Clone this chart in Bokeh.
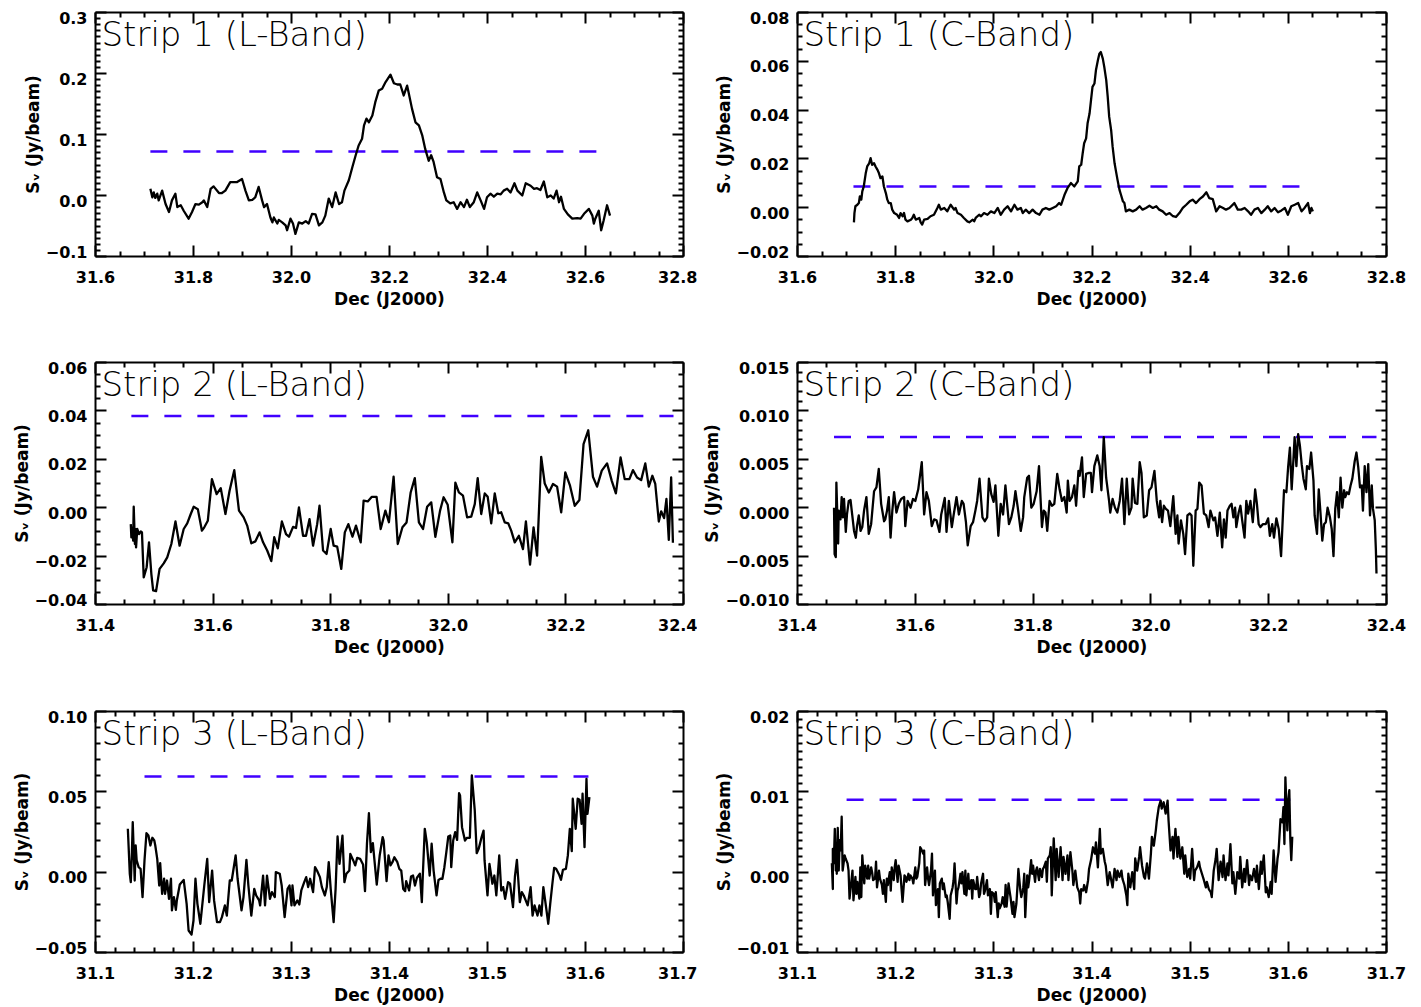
import numpy as np
from bokeh.plotting import figure
from bokeh.layouts import gridplot
from bokeh.models import LinearAxis, FixedTicker, CustomJSTickFormatter, Range1d, Label
from bokeh.embed import file_html
from bokeh.resources import INLINE

# ---------------- data (Dec in deg, S_nu in Jy/beam) ----------------
strip1_L = [(31.712,0.011),(31.716,-0.003),(31.719,0.005),(31.722,-0.004),(31.726,0.003),(31.729,-0.008),
 (31.736,0.008),(31.743,-0.014),(31.750,-0.027),(31.756,-0.008),(31.763,0.003),(31.767,-0.019),(31.774,-0.016),
 (31.780,-0.025),(31.790,-0.038),(31.797,-0.027),(31.804,-0.014),(31.811,-0.015),(31.818,-0.011),(31.821,-0.008),
 (31.828,-0.019),(31.835,0.011),(31.841,0.015),(31.852,0.004),(31.858,0.004),(31.865,0.008),(31.875,0.022),
 (31.889,0.022),(31.899,0.027),(31.906,0.008),(31.913,-0.008),(31.920,-0.007),(31.926,-0.003),(31.933,0.014),
 (31.940,-0.008),(31.944,-0.019),(31.950,-0.014),(31.957,-0.036),(31.961,-0.044),(31.964,-0.036),(31.971,-0.046),
 (31.974,-0.040),(31.981,-0.044),(31.988,-0.049),(31.991,-0.057),(31.998,-0.038),(32.003,-0.046),(32.008,-0.063),
 (32.015,-0.044),(32.022,-0.046),(32.029,-0.042),(32.035,-0.046),(32.042,-0.030),(32.049,-0.031),(32.056,-0.049),
 (32.063,-0.044),(32.069,-0.033),(32.076,-0.005),(32.083,-0.019),(32.090,0.005),(32.097,-0.014),(32.103,-0.011),
 (32.108,0.008),(32.117,0.025),(32.124,0.046),(32.131,0.066),(32.137,0.082),(32.144,0.093),(32.148,0.115),
 (32.153,0.126),(32.158,0.120),(32.165,0.131),(32.171,0.153),(32.178,0.172),(32.185,0.175),(32.192,0.186),
 (32.202,0.198),(32.209,0.184),(32.216,0.182),(32.222,0.182),(32.229,0.164),(32.236,0.180),(32.239,0.169),
 (32.246,0.142),(32.253,0.120),(32.260,0.115),(32.267,0.098),(32.273,0.076),(32.280,0.057),(32.285,0.066),
 (32.290,0.055),(32.297,0.030),(32.304,0.027),(32.311,0.005),(32.316,-0.008),(32.324,-0.013),(32.331,-0.011),
 (32.338,-0.022),(32.345,-0.011),(32.352,-0.019),(32.358,-0.007),(32.364,-0.019),(32.372,-0.011),(32.379,0.005),
 (32.386,-0.008),(32.393,-0.022),(32.399,-0.003),(32.406,0.003),(32.413,-0.002),(32.420,0.003),(32.427,0.002),
 (32.433,0.008),(32.440,0.011),(32.447,0.005),(32.455,0.020),(32.461,0.008),(32.471,0.000),(32.478,0.020),
 (32.488,0.016),(32.495,0.011),(32.501,0.012),(32.508,0.009),(32.515,0.023),(32.522,-0.003),(32.529,0.000),
 (32.535,-0.005),(32.541,0.008),(32.546,-0.011),(32.550,-0.002),(32.556,-0.022),(32.564,-0.031),(32.573,-0.038),
 (32.583,-0.037),(32.590,-0.038),(32.597,-0.030),(32.607,-0.022),(32.614,-0.033),(32.617,-0.046),(32.620,-0.038),
 (32.627,-0.025),(32.632,-0.057),(32.637,-0.041),(32.644,-0.016),(32.650,-0.033)]

strip1_C = [(31.715,-0.0060),(31.716,-0.0022),(31.718,0.0006),(31.722,0.0012),(31.725,0.0019),(31.727,0.0046),
 (31.730,0.0033),(31.732,0.0067),(31.735,0.0087),(31.739,0.0141),(31.742,0.0169),(31.746,0.0182),(31.749,0.0203),
 (31.752,0.0176),(31.756,0.0182),(31.759,0.0169),(31.763,0.0155),(31.766,0.0141),(31.769,0.0121),(31.773,0.0128),
 (31.776,0.0087),(31.780,0.0060),(31.783,0.0033),(31.786,0.0019),(31.790,0.0019),(31.793,-0.0008),(31.797,-0.0022),
 (31.803,-0.0029),(31.807,-0.0042),(31.810,-0.0022),(31.814,-0.0035),(31.817,-0.0022),(31.820,-0.0049),
 (31.824,-0.0056),(31.831,-0.0049),(31.834,-0.0042),(31.837,-0.0029),(31.841,-0.0049),(31.848,-0.0042),
 (31.851,-0.0060),(31.854,-0.0069),(31.858,-0.0049),(31.865,-0.0046),(31.871,-0.0035),(31.878,-0.0029),
 (31.885,-0.0001),(31.888,0.0012),(31.892,-0.0008),(31.899,-0.0001),(31.905,-0.0015),(31.912,0.0012),
 (31.919,-0.0008),(31.922,-0.0001),(31.926,-0.0022),(31.933,-0.0029),(31.939,-0.0042),(31.946,-0.0056),
 (31.950,-0.0060),(31.957,-0.0049),(31.960,-0.0056),(31.963,-0.0042),(31.970,-0.0029),(31.974,-0.0035),
 (31.980,-0.0022),(31.987,-0.0029),(31.994,-0.0015),(32.001,-0.0022),(32.008,-0.0001),(32.014,-0.0029),
 (32.021,-0.0008),(32.028,0.0006),(32.035,-0.0015),(32.042,0.0012),(32.048,-0.0008),(32.055,-0.0001),
 (32.059,-0.0022),(32.065,-0.0008),(32.072,-0.0022),(32.079,-0.0008),(32.086,-0.0022),(32.093,-0.0029),
 (32.099,-0.0008),(32.106,-0.0001),(32.113,-0.0008),(32.120,-0.0001),(32.127,0.0006),(32.133,0.0019),
 (32.137,0.0012),(32.144,0.0053),(32.150,0.0080),(32.157,0.0101),(32.164,0.0087),(32.171,0.0108),(32.174,0.0169),
 (32.178,0.0176),(32.181,0.0223),(32.184,0.0264),(32.188,0.0284),(32.191,0.0346),(32.195,0.0386),(32.198,0.0441),
 (32.201,0.0495),(32.205,0.0509),(32.208,0.0563),(32.212,0.0604),(32.215,0.0631),(32.218,0.0638),(32.222,0.0611),
 (32.225,0.0577),(32.229,0.0523),(32.232,0.0455),(32.235,0.0373),(32.239,0.0318),(32.242,0.0250),(32.246,0.0182),
 (32.249,0.0148),(32.252,0.0114),(32.256,0.0073),(32.259,0.0053),(32.263,0.0026),(32.266,0.0019),(32.269,-0.0015),
 (32.276,-0.0008),(32.283,-0.0015),(32.290,-0.0008),(32.297,0.0006),(32.303,-0.0008),(32.310,-0.0001),
 (32.317,0.0008),(32.324,-0.0001),(32.331,0.0006),(32.337,-0.0008),(32.344,-0.0015),(32.351,-0.0029),
 (32.358,-0.0022),(32.365,-0.0035),(32.371,-0.0038),(32.378,-0.0022),(32.385,-0.0001),(32.392,0.0012),
 (32.399,0.0026),(32.405,0.0033),(32.412,0.0019),(32.419,0.0035),(32.426,0.0046),(32.433,0.0063),(32.439,0.0039),
 (32.446,0.0035),(32.453,-0.0015),(32.460,0.0006),(32.467,-0.0001),(32.473,-0.0008),(32.480,-0.0001),
 (32.490,0.0019),(32.497,-0.0008),(32.504,-0.0008),(32.511,-0.0001),(32.518,-0.0015),(32.524,-0.0029),
 (32.531,-0.0008),(32.538,-0.0001),(32.545,-0.0022),(32.552,-0.0008),(32.558,0.0006),(32.565,-0.0015),
 (32.572,-0.0001),(32.579,-0.0019),(32.586,-0.0011),(32.593,-0.0001),(32.599,-0.0029),(32.606,0.0006),
 (32.613,0.0012),(32.620,0.0019),(32.627,-0.0015),(32.633,-0.0001),(32.640,0.0019),(32.644,-0.0022),
 (32.647,-0.0001),(32.650,-0.0015)]

strip2_L = [(31.460,-0.0068),(31.461,-0.0123),(31.463,-0.0081),(31.464,-0.0136),(31.465,0.0004),(31.467,-0.0150),
 (31.468,-0.0088),(31.469,-0.0164),(31.471,-0.0088),(31.474,-0.0109),(31.477,-0.0098),(31.479,-0.0102),
 (31.482,-0.0288),(31.487,-0.0246),(31.491,-0.0143),(31.495,-0.0274),(31.498,-0.0342),(31.503,-0.0345),
 (31.509,-0.0253),(31.516,-0.0230),(31.522,-0.0205),(31.529,-0.0150),(31.536,-0.0057),(31.543,-0.0157),
 (31.550,-0.0088),(31.556,-0.0065),(31.562,-0.0026),(31.567,0.0004),(31.574,-0.0006),(31.581,-0.0095),
 (31.585,-0.0081),(31.591,-0.0054),(31.598,0.0118),(31.606,0.0056),(31.613,0.0081),(31.621,-0.0026),
 (31.628,0.0070),(31.636,0.0155),(31.644,-0.0012),(31.652,-0.0040),(31.658,-0.0074),(31.665,-0.0147),
 (31.672,-0.0139),(31.679,-0.0102),(31.685,-0.0143),(31.692,-0.0177),(31.699,-0.0221),(31.704,-0.0122),
 (31.710,-0.0168),(31.717,-0.0057),(31.724,-0.0109),(31.729,-0.0120),(31.736,-0.0079),(31.741,-0.0084),
 (31.746,0.0001),(31.753,-0.0116),(31.758,-0.0116),(31.764,-0.0047),(31.770,-0.0157),(31.777,-0.0068),
 (31.781,0.0008),(31.787,-0.0177),(31.793,-0.0191),(31.800,-0.0088),(31.805,-0.0157),(31.811,-0.0161),
 (31.818,-0.0253),(31.824,-0.0102),(31.830,-0.0068),(31.837,-0.0120),(31.843,-0.0074),(31.851,-0.0143),
 (31.856,0.0029),(31.863,0.0026),(31.870,0.0045),(31.878,0.0045),(31.885,-0.0088),(31.893,-0.0012),
 (31.899,-0.0060),(31.907,0.0128),(31.914,-0.0150),(31.922,-0.0081),(31.929,-0.0061),(31.936,0.0063),
 (31.943,0.0122),(31.950,-0.0061),(31.957,-0.0088),(31.964,0.0004),(31.971,0.0022),(31.978,-0.0120),
 (31.986,-0.0012),(31.992,0.0043),(31.999,0.0012),(32.007,-0.0143),(32.012,0.0104),(32.018,0.0063),
 (32.025,0.0050),(32.032,-0.0040),(32.039,-0.0037),(32.045,0.0015),(32.050,0.0122),(32.056,-0.0026),
 (32.062,0.0059),(32.067,0.0045),(32.073,-0.0065),(32.079,0.0059),(32.085,-0.0023),(32.090,-0.0019),
 (32.096,-0.0061),(32.102,-0.0065),(32.107,-0.0095),(32.113,-0.0143),(32.120,-0.0116),(32.127,-0.0171),
 (32.132,-0.0057),(32.139,-0.0235),(32.145,-0.0081),(32.151,-0.0198),(32.158,0.0210),(32.164,0.0100),
 (32.171,0.0063),(32.178,0.0098),(32.185,0.0087),(32.192,-0.0019),(32.199,0.0146),(32.207,0.0091),
 (32.215,0.0008),(32.223,0.0032),(32.230,0.0263),(32.238,0.0320),(32.246,0.0128),(32.253,0.0087),
 (32.261,0.0153),(32.270,0.0183),(32.278,0.0111),(32.285,0.0059),(32.293,0.0208),(32.300,0.0118),
 (32.308,0.0118),(32.314,0.0155),(32.321,0.0125),(32.328,0.0114),(32.335,0.0183),(32.341,0.0087),
 (32.347,0.0132),(32.352,0.0098),(32.358,-0.0057),(32.362,-0.0015),(32.367,-0.0043),(32.371,0.0036),
 (32.375,-0.0133),(32.379,0.0125),(32.382,-0.0145)]

strip2_C = [(31.462,0.0000),(31.463,-0.0048),(31.465,-0.0051),(31.466,0.0026),(31.469,-0.0037),(31.470,-0.0003),
 (31.473,-0.0012),(31.475,0.0011),(31.477,-0.0010),(31.479,0.0009),(31.482,-0.0025),(31.484,-0.0007),
 (31.487,0.0007),(31.490,0.0008),(31.493,-0.0008),(31.496,-0.0024),(31.499,-0.0031),(31.501,-0.0019),
 (31.504,-0.0008),(31.507,-0.0024),(31.510,-0.0020),(31.513,-0.0003),(31.517,0.0011),(31.521,-0.0027),
 (31.525,-0.0017),(31.530,0.0017),(31.534,0.0021),(31.538,0.0040),(31.542,0.0004),(31.547,-0.0014),
 (31.549,-0.0012),(31.552,-0.0003),(31.555,0.0011),(31.558,-0.0031),(31.561,-0.0003),(31.564,0.0016),
 (31.568,-0.0005),(31.572,0.0004),(31.576,0.0009),(31.581,0.0011),(31.583,-0.0019),(31.587,0.0007),
 (31.592,0.0000),(31.596,0.0009),(31.600,0.0007),(31.605,0.0019),(31.611,0.0047),(31.615,-0.0007),
 (31.619,0.0016),(31.623,0.0007),(31.628,-0.0019),(31.632,-0.0012),(31.636,-0.0013),(31.641,-0.0025),
 (31.644,-0.0007),(31.650,0.0010),(31.653,-0.0025),(31.657,0.0007),(31.662,-0.0020),(31.665,-0.0008),
 (31.670,0.0011),(31.674,-0.0007),(31.679,0.0007),(31.682,0.0004),(31.686,-0.0015),(31.689,-0.0039),
 (31.694,-0.0019),(31.698,-0.0015),(31.702,-0.0003),(31.705,0.0007),(31.709,0.0030),(31.714,-0.0010),
 (31.718,-0.0014),(31.722,-0.0010),(31.725,0.0030),(31.729,0.0014),(31.733,0.0006),(31.736,0.0023),
 (31.741,-0.0029),(31.745,0.0004),(31.749,-0.0007),(31.753,0.0023),(31.759,-0.0017),(31.763,-0.0010),
 (31.767,0.0002),(31.770,0.0017),(31.774,0.0000),(31.779,-0.0024),(31.783,-0.0010),(31.785,0.0011),
 (31.790,0.0031),(31.793,0.0033),(31.797,0.0000),(31.801,0.0004),(31.806,0.0017),(31.810,0.0043),
 (31.815,-0.0020),(31.818,-0.0003),(31.821,-0.0005),(31.824,-0.0024),(31.828,0.0007),(31.832,0.0002),
 (31.836,0.0004),(31.841,0.0035),(31.845,0.0019),(31.849,0.0007),(31.853,0.0011),(31.857,-0.0005),
 (31.859,0.0028),(31.862,0.0007),(31.866,0.0011),(31.870,0.0023),(31.873,0.0002),(31.877,0.0038),
 (31.879,0.0033),(31.883,0.0052),(31.886,0.0011),(31.890,0.0035),(31.895,0.0036),(31.898,0.0036),
 (31.900,0.0016),(31.904,0.0043),(31.909,0.0054),(31.913,0.0043),(31.916,0.0018),(31.920,0.0073),
 (31.924,0.0031),(31.929,0.0007),(31.931,-0.0005),(31.935,0.0009),(31.939,0.0000),(31.943,-0.0005),
 (31.947,0.0007),(31.951,0.0030),(31.955,-0.0017),(31.959,0.0030),(31.963,-0.0007),(31.967,0.0000),
 (31.969,0.0030),(31.973,0.0005),(31.977,0.0004),(31.981,0.0047),(31.984,0.0036),(31.988,-0.0010),
 (31.993,-0.0008),(31.997,0.0018),(32.001,0.0021),(32.006,0.0038),(32.010,0.0007),(32.014,-0.0010),
 (32.016,0.0007),(32.019,-0.0015),(32.022,0.0002),(32.025,-0.0001),(32.029,-0.0003),(32.033,-0.0019),
 (32.038,0.0012),(32.042,-0.0027),(32.045,-0.0008),(32.047,-0.0037),(32.051,-0.0013),(32.055,-0.0027),
 (32.058,-0.0048),(32.062,-0.0008),(32.066,-0.0006),(32.069,-0.0008),(32.072,-0.0060),(32.076,-0.0003),
 (32.079,-0.0001),(32.082,0.0026),(32.086,0.0023),(32.090,-0.0006),(32.094,-0.0008),(32.098,-0.0020),
 (32.101,-0.0003),(32.106,-0.0013),(32.109,-0.0010),(32.113,-0.0029),(32.117,-0.0005),(32.121,-0.0041),
 (32.124,-0.0012),(32.127,-0.0031),(32.130,-0.0003),(32.134,0.0002),(32.137,0.0004),(32.140,-0.0010),
 (32.143,0.0000),(32.145,-0.0020),(32.149,-0.0005),(32.152,0.0002),(32.155,-0.0013),(32.159,-0.0031),
 (32.162,0.0007),(32.165,-0.0006),(32.169,0.0007),(32.173,-0.0015),(32.177,0.0019),(32.180,0.0004),
 (32.183,-0.0017),(32.186,-0.0020),(32.190,-0.0017),(32.195,-0.0017),(32.199,-0.0011),(32.202,-0.0029),
 (32.206,-0.0017),(32.209,-0.0031),(32.213,-0.0011),(32.217,-0.0022),(32.221,-0.0050),(32.226,0.0018),
 (32.230,0.0016),(32.233,0.0042),(32.236,0.0062),(32.239,0.0019),(32.242,0.0050),(32.244,0.0073),
 (32.247,0.0043),(32.250,0.0076),(32.253,0.0064),(32.256,0.0045),(32.259,0.0030),(32.263,0.0019),
 (32.265,0.0043),(32.269,0.0040),(32.272,0.0057),(32.276,0.0028),(32.278,-0.0008),(32.282,-0.0027),
 (32.285,0.0019),(32.288,-0.0006),(32.291,-0.0034),(32.294,-0.0017),(32.297,-0.0015),(32.300,0.0000),
 (32.304,-0.0010),(32.307,-0.0022),(32.310,-0.0050),(32.313,-0.0001),(32.316,0.0016),(32.319,-0.0010),
 (32.322,0.0031),(32.325,0.0000),(32.328,0.0018),(32.330,0.0011),(32.333,0.0016),(32.336,0.0014),
 (32.339,0.0023),(32.342,0.0030),(32.346,0.0048),(32.349,0.0057),(32.352,0.0042),(32.355,0.0021),
 (32.358,0.0023),(32.360,-0.0003),(32.363,0.0043),(32.366,0.0016),(32.369,0.0045),(32.372,-0.0008),
 (32.375,0.0023),(32.377,-0.0001),(32.380,-0.0013),(32.382,-0.0044),(32.383,-0.0068)]

strip3_L = [(31.133,0.0270),(31.135,-0.0010),(31.136,-0.0062),(31.137,0.0093),(31.138,0.0311),(31.140,-0.0052),
 (31.141,0.0166),(31.142,0.0073),(31.144,0.0031),(31.146,0.0021),(31.148,-0.0155),(31.150,0.0073),(31.152,0.0243),
 (31.154,0.0228),(31.156,0.0166),(31.158,0.0214),(31.160,0.0197),(31.161,0.0166),(31.163,0.0083),(31.165,-0.0083),
 (31.166,0.0056),(31.168,-0.0135),(31.170,-0.0041),(31.171,-0.0135),(31.173,-0.0052),(31.175,-0.0166),
 (31.177,-0.0041),(31.178,-0.0238),(31.180,-0.0155),(31.182,-0.0234),(31.183,-0.0176),(31.186,-0.0077),
 (31.190,-0.0048),(31.193,-0.0197),(31.195,-0.0363),(31.198,-0.0388),(31.200,-0.0301),(31.202,-0.0041),
 (31.204,-0.0197),(31.207,-0.0321),(31.211,-0.0083),(31.214,0.0083),(31.216,-0.0187),(31.219,0.0010),
 (31.221,-0.0176),(31.224,-0.0311),(31.227,-0.0311),(31.229,-0.0280),(31.232,-0.0207),(31.234,-0.0270),
 (31.237,-0.0052),(31.239,-0.0052),(31.243,0.0104),(31.245,-0.0041),(31.249,-0.0238),(31.251,-0.0155),
 (31.254,0.0077),(31.256,-0.0083),(31.259,-0.0270),(31.262,-0.0104),(31.264,-0.0145),(31.267,-0.0176),
 (31.268,-0.0207),(31.271,-0.0021),(31.273,-0.0207),(31.275,-0.0021),(31.278,-0.0166),(31.280,-0.0124),
 (31.283,-0.0155),(31.284,0.0000),(31.288,-0.0010),(31.290,-0.0083),(31.293,-0.0280),(31.296,-0.0104),
 (31.298,-0.0083),(31.300,-0.0207),(31.301,-0.0083),(31.303,-0.0207),(31.306,-0.0176),(31.308,-0.0201),
 (31.310,-0.0114),(31.313,-0.0062),(31.315,-0.0031),(31.317,-0.0093),(31.319,-0.0041),(31.322,-0.0124),
 (31.324,0.0031),(31.326,0.0010),(31.329,-0.0031),(31.331,-0.0093),(31.334,-0.0145),(31.336,-0.0093),
 (31.338,0.0062),(31.340,-0.0104),(31.343,-0.0311),(31.345,-0.0104),(31.347,0.0222),(31.349,0.0052),
 (31.352,0.0228),(31.354,-0.0062),(31.356,-0.0010),(31.359,0.0010),(31.360,0.0114),(31.363,0.0073),
 (31.365,0.0042),(31.367,0.0089),(31.370,0.0083),(31.373,0.0048),(31.375,-0.0118),(31.377,0.0177),
 (31.379,0.0367),(31.381,0.0125),(31.383,0.0181),(31.387,-0.0077),(31.390,0.0104),(31.393,0.0218),
 (31.394,0.0197),(31.397,-0.0056),(31.399,0.0104),(31.401,0.0042),(31.403,0.0062),(31.405,0.0093),
 (31.408,0.0062),(31.410,0.0021),(31.412,0.0010),(31.414,-0.0104),(31.416,-0.0118),(31.417,-0.0056),
 (31.420,-0.0114),(31.422,-0.0027),(31.424,-0.0021),(31.426,-0.0083),(31.428,-0.0035),(31.431,-0.0010),
 (31.433,-0.0187),(31.434,-0.0021),(31.436,0.0270),(31.438,0.0187),(31.441,-0.0021),(31.443,0.0177),
 (31.445,0.0010),(31.448,-0.0145),(31.450,-0.0048),(31.452,-0.0041),(31.454,-0.0041),(31.456,0.0031),
 (31.458,0.0125),(31.460,0.0222),(31.462,0.0228),(31.463,0.0031),(31.465,0.0197),(31.467,0.0249),
 (31.469,0.0201),(31.471,0.0492),(31.472,0.0477),(31.474,0.0280),(31.477,0.0197),(31.479,0.0214),
 (31.482,0.0214),(31.484,0.0602),(31.487,0.0384),(31.489,0.0118),(31.491,0.0145),(31.494,0.0218),
 (31.496,0.0259),(31.497,0.0073),(31.500,-0.0145),(31.502,0.0052),(31.505,-0.0072),(31.507,-0.0021),
 (31.509,-0.0145),(31.512,0.0104),(31.514,-0.0114),(31.516,-0.0093),(31.518,-0.0166),(31.521,-0.0062),
 (31.523,-0.0072),(31.526,-0.0218),(31.528,-0.0027),(31.530,0.0077),(31.533,-0.0187),(31.535,-0.0124),
 (31.537,-0.0145),(31.539,-0.0176),(31.541,-0.0207),(31.544,-0.0093),(31.546,-0.0270),(31.548,-0.0207),
 (31.551,-0.0270),(31.553,-0.0207),(31.555,-0.0270),(31.557,-0.0093),(31.560,-0.0228),(31.562,-0.0321),
 (31.564,-0.0197),(31.566,-0.0083),(31.568,0.0027),(31.570,0.0021),(31.573,-0.0014),(31.575,-0.0048),
 (31.577,0.0015),(31.580,0.0021),(31.582,0.0104),(31.584,0.0270),(31.586,0.0131),(31.587,0.0457),
 (31.590,0.0270),(31.592,0.0457),(31.594,0.0450),(31.596,0.0301),(31.597,0.0488),(31.599,0.0156),
 (31.601,0.0581),(31.602,0.0363),(31.604,0.0467)]

strip3_C = [(31.135,0.0011),(31.136,-0.0021),(31.136,0.0029),(31.137,0.0011),(31.138,0.0054),(31.139,0.0002),
 (31.140,0.0031),(31.140,-0.0002),(31.141,0.0055),(31.142,0.0002),(31.143,0.0040),(31.144,0.0027),(31.145,0.0069),
 (31.146,0.0002),(31.148,0.0021),(31.149,0.0017),(31.151,0.0011),(31.152,0.0002),(31.153,-0.0033),(31.155,-0.0010),
 (31.156,0.0002),(31.157,-0.0035),(31.159,-0.0006),(31.160,-0.0027),(31.161,-0.0012),(31.163,-0.0033),
 (31.164,0.0006),(31.165,-0.0031),(31.166,0.0021),(31.168,-0.0014),(31.169,0.0008),(31.171,-0.0008),
 (31.172,0.0008),(31.173,-0.0008),(31.175,0.0006),(31.176,0.0000),(31.177,-0.0010),(31.179,-0.0008),
 (31.180,0.0013),(31.181,-0.0019),(31.183,0.0002),(31.184,-0.0008),(31.186,-0.0016),(31.187,-0.0027),
 (31.188,-0.0010),(31.190,-0.0037),(31.191,-0.0008),(31.192,-0.0016),(31.194,0.0000),(31.195,-0.0023),
 (31.196,0.0006),(31.198,-0.0010),(31.199,0.0006),(31.200,0.0015),(31.202,-0.0012),(31.203,0.0008),
 (31.205,-0.0004),(31.206,-0.0021),(31.207,-0.0037),(31.209,-0.0004),(31.210,-0.0006),(31.211,-0.0012),
 (31.213,-0.0002),(31.214,-0.0010),(31.215,-0.0004),(31.217,-0.0008),(31.218,-0.0014),(31.220,0.0006),
 (31.221,-0.0008),(31.222,-0.0006),(31.224,0.0011),(31.225,0.0031),(31.226,0.0029),(31.228,0.0023),
 (31.229,0.0027),(31.230,-0.0016),(31.232,0.0006),(31.233,-0.0008),(31.234,-0.0016),(31.236,0.0002),
 (31.237,0.0023),(31.238,-0.0029),(31.240,0.0002),(31.241,-0.0041),(31.243,-0.0021),(31.244,-0.0056),
 (31.245,-0.0014),(31.247,-0.0008),(31.248,-0.0021),(31.249,-0.0014),(31.251,-0.0031),(31.252,-0.0029),
 (31.253,-0.0037),(31.255,-0.0058),(31.256,-0.0029),(31.258,-0.0019),(31.259,-0.0010),(31.260,0.0011),
 (31.262,-0.0039),(31.263,-0.0023),(31.264,-0.0019),(31.266,-0.0002),(31.267,-0.0014),(31.268,0.0000),
 (31.270,-0.0027),(31.271,0.0002),(31.272,-0.0029),(31.274,-0.0002),(31.275,-0.0021),(31.277,-0.0010),
 (31.278,-0.0033),(31.279,-0.0010),(31.281,-0.0021),(31.282,-0.0021),(31.283,-0.0006),(31.285,-0.0031),
 (31.286,-0.0027),(31.287,-0.0014),(31.289,-0.0002),(31.290,-0.0027),(31.291,-0.0023),(31.293,-0.0010),
 (31.294,-0.0029),(31.296,-0.0021),(31.297,-0.0052),(31.298,-0.0025),(31.300,-0.0027),(31.301,-0.0037),
 (31.302,-0.0025),(31.304,-0.0056),(31.305,-0.0039),(31.306,-0.0045),(31.308,-0.0039),(31.309,-0.0031),
 (31.311,-0.0043),(31.312,-0.0016),(31.313,-0.0043),(31.315,-0.0014),(31.316,-0.0023),(31.317,-0.0031),
 (31.319,-0.0052),(31.320,-0.0037),(31.321,-0.0056),(31.323,-0.0039),(31.324,-0.0019),(31.325,0.0004),
 (31.327,-0.0023),(31.328,-0.0031),(31.330,-0.0019),(31.331,-0.0002),(31.332,-0.0056),(31.334,-0.0004),
 (31.335,-0.0019),(31.336,-0.0010),(31.338,0.0015),(31.339,-0.0002),(31.340,0.0008),(31.342,-0.0012),
 (31.343,0.0002),(31.344,0.0006),(31.346,-0.0010),(31.347,0.0004),(31.349,-0.0006),(31.350,0.0004),
 (31.351,0.0006),(31.353,0.0013),(31.354,-0.0012),(31.355,0.0017),(31.357,0.0021),(31.358,0.0031),
 (31.359,-0.0029),(31.361,0.0042),(31.363,-0.0010),(31.364,0.0029),(31.366,-0.0006),(31.368,0.0031),
 (31.370,-0.0010),(31.371,0.0019),(31.373,-0.0002),(31.375,0.0021),(31.376,-0.0010),(31.378,0.0025),
 (31.380,0.0002),(31.381,-0.0016),(31.383,0.0002),(31.385,-0.0019),(31.387,-0.0025),(31.388,-0.0039),
 (31.389,-0.0021),(31.391,-0.0023),(31.392,-0.0016),(31.394,-0.0025),(31.396,-0.0010),(31.397,0.0004),
 (31.399,0.0015),(31.401,0.0031),(31.403,0.0023),(31.404,0.0037),(31.406,0.0006),(31.408,0.0054),
 (31.409,0.0023),(31.411,0.0029),(31.413,0.0013),(31.414,0.0008),(31.416,-0.0016),(31.418,0.0000),
 (31.419,-0.0006),(31.421,-0.0019),(31.423,0.0004),(31.425,-0.0010),(31.426,0.0002),(31.428,-0.0006),
 (31.430,0.0002),(31.431,-0.0008),(31.433,-0.0016),(31.435,-0.0029),(31.436,-0.0041),(31.437,-0.0002),
 (31.439,-0.0019),(31.441,0.0000),(31.443,-0.0021),(31.444,0.0017),(31.446,0.0002),(31.448,0.0019),
 (31.449,0.0031),(31.451,0.0008),(31.453,-0.0006),(31.454,-0.0008),(31.456,0.0011),(31.458,-0.0008),
 (31.460,0.0023),(31.461,0.0044),(31.463,0.0033),(31.465,0.0052),(31.466,0.0064),(31.468,0.0081),
 (31.470,0.0089),(31.471,0.0079),(31.473,0.0087),(31.475,0.0073),(31.477,0.0089),(31.478,0.0064),
 (31.480,0.0027),(31.482,0.0044),(31.483,0.0017),(31.485,0.0054),(31.487,0.0019),(31.488,0.0044),
 (31.490,0.0017),(31.492,0.0031),(31.494,-0.0002),(31.495,0.0021),(31.497,-0.0006),(31.499,0.0004),
 (31.500,-0.0008),(31.502,0.0029),(31.504,-0.0010),(31.505,0.0002),(31.507,0.0006),(31.509,0.0013),
 (31.510,0.0006),(31.512,-0.0002),(31.514,-0.0010),(31.516,-0.0019),(31.517,-0.0012),(31.519,-0.0021),
 (31.521,-0.0025),(31.522,-0.0031),(31.524,0.0002),(31.526,0.0017),(31.527,0.0029),(31.529,-0.0010),
 (31.531,0.0013),(31.533,-0.0006),(31.534,0.0021),(31.536,-0.0010),(31.538,0.0011),(31.539,-0.0004),
 (31.541,0.0035),(31.543,-0.0014),(31.544,0.0000),(31.546,-0.0027),(31.548,0.0000),(31.550,-0.0008),
 (31.551,0.0019),(31.553,-0.0019),(31.555,0.0004),(31.556,-0.0012),(31.558,0.0015),(31.560,-0.0016),
 (31.561,-0.0004),(31.563,-0.0010),(31.565,0.0004),(31.567,-0.0012),(31.568,0.0008),(31.570,-0.0021),
 (31.572,0.0013),(31.573,-0.0002),(31.575,0.0021),(31.577,-0.0025),(31.578,-0.0019),(31.580,-0.0031),
 (31.582,-0.0012),(31.583,-0.0027),(31.585,0.0027),(31.587,-0.0012),(31.589,0.0017),(31.590,0.0025),
 (31.592,0.0066),(31.594,0.0062),(31.595,0.0081),(31.596,0.0035),(31.597,0.0118),(31.599,0.0052),
 (31.600,0.0089),(31.601,0.0102),(31.602,0.0042),(31.603,0.0015),(31.604,0.0044)]

# detection thresholds (dashed lines): level and Dec extent
strip1_L_limit, strip1_L_limit_dec = 0.072, [31.712, 32.650]
strip1_C_limit, strip1_C_limit_dec = 0.0087, [31.714, 32.650]
strip2_L_limit, strip2_L_limit_dec = 0.0379, [31.461, 32.383]
strip2_C_limit, strip2_C_limit_dec = 0.0073, [31.462, 32.383]
strip3_L_limit, strip3_L_limit_dec = 0.0596, [31.150, 31.603]
strip3_C_limit, strip3_C_limit_dec = 0.0090, [31.150, 31.602]

# axis tick values
strip1_dec_ticks = [31.6, 31.8, 32.0, 32.2, 32.4, 32.6, 32.8]
strip2_dec_ticks = [31.4, 31.6, 31.8, 32.0, 32.2, 32.4]
strip3_dec_ticks = [31.1, 31.2, 31.3, 31.4, 31.5, 31.6, 31.7]
strip1_L_flux_ticks = [-0.1, 0.0, 0.1, 0.2, 0.3]
strip1_C_flux_ticks = [-0.02, 0.0, 0.02, 0.04, 0.06, 0.08]
strip2_L_flux_ticks = [-0.04, -0.02, 0.0, 0.02, 0.04, 0.06]
strip2_C_flux_ticks = [-0.010, -0.005, 0.0, 0.005, 0.010, 0.015]
strip3_L_flux_ticks = [-0.05, 0.0, 0.05, 0.10]
strip3_C_flux_ticks = [-0.01, 0.0, 0.01, 0.02]

titles = ["Strip 1 (L-Band)", "Strip 1 (C-Band)", "Strip 2 (L-Band)",
          "Strip 2 (C-Band)", "Strip 3 (L-Band)", "Strip 3 (C-Band)"]
y_title = "S\u1d65 (Jy/beam)"
x_title = "Dec (J2000)"

# ---------------- layout geometry (page has no margin) ----------------
COL_BL = [95, 100]; COL_FW = [588, 589]; COL_BR = [14, 30]
ROW_BT = [12, 10, 10]; ROW_FH = [244, 242, 241]; ROW_BB = [96, 97, 55]

FONT = "DejaVu Sans"
TITLE_FONT = "'DejaVu Sans ExtraLight', 'DejaVu Sans Light', 'DejaVu Sans'"
DASH_COLOR = "#4000ff"


def minor(ticks, n):
    out = []
    for a, b in zip(ticks[:-1], ticks[1:]):
        for k in range(1, n):
            out.append(a + (b - a) * k / n)
    return out


def style_axis(ax):
    ax.axis_line_width = 2
    ax.axis_line_color = "black"
    ax.major_tick_line_width = 2
    ax.minor_tick_line_width = 2
    ax.major_tick_in = 11
    ax.major_tick_out = 0
    ax.minor_tick_in = 5
    ax.minor_tick_out = 0
    ax.major_label_text_font = FONT
    ax.major_label_text_font_style = "bold"
    ax.major_label_text_font_size = "16px"
    ax.major_label_text_color = "black"
    ax.axis_label_text_font = FONT
    ax.axis_label_text_font_style = "bold"
    ax.axis_label_text_font_size = "17px"
    ax.axis_label_text_color = "black"


def hide_labels(ax):
    ax.major_label_text_font_size = "0px"
    ax.major_label_text_color = None
    ax.major_label_standoff = 0
    ax.axis_label = None


def panel(series, limit, limit_dec, title, xt, yt, ydec, xminor, yminor, col, row):
    bl, fw, br = COL_BL[col], COL_FW[col], COL_BR[col]
    bt, fh, bb = ROW_BT[row], ROW_FH[row], ROW_BB[row]
    p = figure(frame_width=fw, frame_height=fh, output_backend="svg",
               toolbar_location=None, tools="",
               x_range=Range1d(xt[0], xt[-1]), y_range=Range1d(yt[0], yt[-1]),
               min_border_left=bl, min_border_right=br, min_border_top=bt, min_border_bottom=bb)
    p.grid.visible = False
    p.outline_line_color = None
    p.background_fill_color = "white"
    p.border_fill_color = "white"

    xtick = FixedTicker(ticks=xt, minor_ticks=minor(xt, xminor))
    ytick = FixedTicker(ticks=yt, minor_ticks=minor(yt, yminor))

    bottom = p.below[0]
    left = p.left[0]
    bottom.ticker = xtick
    left.ticker = ytick
    right = LinearAxis(ticker=ytick)
    top = LinearAxis(ticker=xtick)
    p.add_layout(right, "right")
    p.add_layout(top, "above")
    for ax in (bottom, left, right, top):
        style_axis(ax)
    for ax in (left, right, top):
        hide_labels(ax)

    bottom.formatter = CustomJSTickFormatter(code="return tick.toFixed(1);")
    bottom.axis_label = x_title
    bottom.major_label_standoff = 14
    bottom.axis_label_standoff = 3

    # y tick labels drawn by an outer label-only axis, set like the original
    # (a little below each tick, the lowest one lifted above its tick)
    d = 5.0 * (yt[-1] - yt[0]) / fh
    lab_pos = [yt[0] + d] + [v - d for v in yt[1:]]
    lab_txt = [f"{v:.{ydec}f}".replace("-", "\u2212") for v in yt]
    lab = LinearAxis(ticker=FixedTicker(ticks=lab_pos, minor_ticks=[]),
                     formatter=CustomJSTickFormatter(args=dict(labels=lab_txt), code="return labels[index];"),
                     axis_label=y_title)
    style_axis(lab)
    lab.axis_line_color = None
    lab.major_tick_line_color = None
    lab.minor_tick_line_color = None
    lab.major_tick_in = 0
    lab.minor_tick_in = 0
    lab.major_label_standoff = 8
    lab.axis_label_standoff = 0
    p.add_layout(lab, "left")

    dec = [d_ for d_, f in series]
    flux = [f for d_, f in series]
    p.line(limit_dec, [limit, limit], line_color=DASH_COLOR, line_width=2.5, line_dash="17 16")
    p.line(dec, flux, line_color="black", line_width=2.3, line_join="round")

    xr = xt[-1] - xt[0]
    yr = yt[-1] - yt[0]
    p.add_layout(Label(x=xt[0] + 6.0 / fw * xr, y=yt[-1] - 21.0 / fh * yr, text=title,
                       text_font=TITLE_FONT, text_font_size="34px",
                       text_baseline="alphabetic", text_align="left", text_color="black"))
    return p


p1 = panel(strip1_L, strip1_L_limit, strip1_L_limit_dec, titles[0], strip1_dec_ticks, strip1_L_flux_ticks, 1, 4, 10, 0, 0)
p2 = panel(strip1_C, strip1_C_limit, strip1_C_limit_dec, titles[1], strip1_dec_ticks, strip1_C_flux_ticks, 2, 4, 4, 1, 0)
p3 = panel(strip2_L, strip2_L_limit, strip2_L_limit_dec, titles[2], strip2_dec_ticks, strip2_L_flux_ticks, 2, 4, 4, 0, 1)
p4 = panel(strip2_C, strip2_C_limit, strip2_C_limit_dec, titles[3], strip2_dec_ticks, strip2_C_flux_ticks, 3, 4, 5, 1, 1)
p5 = panel(strip3_L, strip3_L_limit, strip3_L_limit_dec, titles[4], strip3_dec_ticks, strip3_L_flux_ticks, 2, 5, 5, 0, 2)
p6 = panel(strip3_C, strip3_C_limit, strip3_C_limit_dec, titles[5], strip3_dec_ticks, strip3_C_flux_ticks, 2, 5, 10, 1, 2)

grid = gridplot([[p1, p2], [p3, p4], [p5, p6]], toolbar_location=None)
open("out.html", "w").write(file_html(grid, INLINE))
